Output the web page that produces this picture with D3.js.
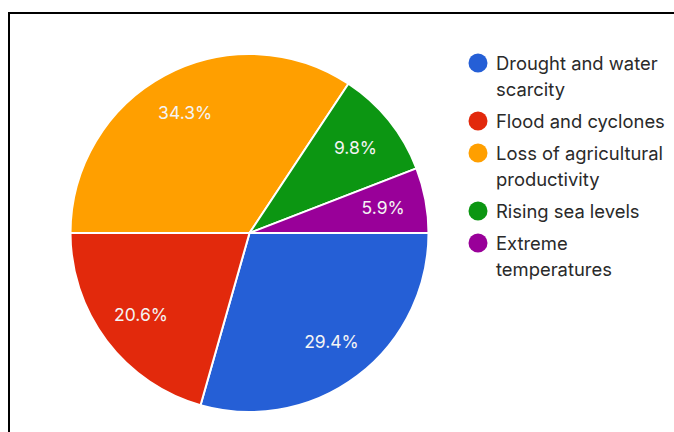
<!DOCTYPE html>
<html>
<head>
<meta charset="utf-8">
<script src="https://cdn.jsdelivr.net/npm/d3@7/dist/d3.min.js"></script>
<style>
  html, body { margin: 0; padding: 0; background: #fff; }
  svg { display: block; }
</style>
</head>
<body>
<svg id="chart" width="674" height="432"></svg>
<script>
// Response counts per impact category
const categories = [
  "Drought and water scarcity",
  "Flood and cyclones",
  "Loss of agricultural productivity",
  "Rising sea levels",
  "Extreme temperatures"
];
const values = [30, 21, 35, 10, 6];
const colors = ["#255fd6", "#e2290c", "#ff9f00", "#0c9612", "#990099"];
// Legend entries wrapped onto lines
const legendLines = [
  ["Drought and water", "scarcity"],
  ["Flood and cyclones"],
  ["Loss of agricultural", "productivity"],
  ["Rising sea levels"],
  ["Extreme", "temperatures"]
];

const svg = d3.select("#chart");
const W = 674, H = 432;

// frame: top and left edges
svg.append("path")
  .attr("d", `M9,${H} L9,13 L${W},13`)
  .attr("fill", "none")
  .attr("stroke", "#000")
  .attr("stroke-width", 2);

const cx = 249.5, cy = 233, R = 179;
const total = d3.sum(values);

const pie = d3.pie()
  .sort(null)
  .startAngle(Math.PI / 2)
  .endAngle(Math.PI / 2 + 2 * Math.PI)
  .value(d => d);

const arcs = pie(values);
const arc = d3.arc().innerRadius(0).outerRadius(R);
const labelArc = d3.arc().innerRadius(136).outerRadius(136);

const g = svg.append("g").attr("transform", `translate(${cx},${cy})`);

g.selectAll("path.slice")
  .data(arcs)
  .join("path")
  .attr("class", "slice")
  .attr("d", arc)
  .attr("fill", (d, i) => colors[i])
  .attr("stroke", "#fff")
  .attr("stroke-width", 2)
  .attr("stroke-linejoin", "round");

const fmt = d3.format(".1%");
g.selectAll("text.pct")
  .data(arcs)
  .join("text")
  .attr("class", "pct")
  .attr("transform", d => `translate(${labelArc.centroid(d)})`)
  .attr("text-anchor", "middle")
  .attr("dy", "0.36em")
  .attr("font-family", "Inter, sans-serif")
  .attr("font-size", 17.5)
  .attr("fill", "#f4f4f4")
  .text(d => fmt(d.value / total));

// legend
const legend = svg.append("g").attr("font-family", "Inter, sans-serif");
const rowStarts = [63, 121, 153, 211, 243];
const lineH = 26;
legendLines.forEach((lines, i) => {
  const row = legend.append("g").attr("transform", `translate(0,${rowStarts[i]})`);
  row.append("circle")
    .attr("cx", 478)
    .attr("cy", 0)
    .attr("r", 9.5)
    .attr("fill", colors[i]);
  lines.forEach((t, j) => {
    row.append("text")
      .attr("x", 496)
      .attr("y", j * lineH)
      .attr("dy", "0.36em")
      .attr("font-size", 18.4)
      .attr("fill", "#2a2a2a")
      .text(t);
  });
});
</script>
</body>
</html>
